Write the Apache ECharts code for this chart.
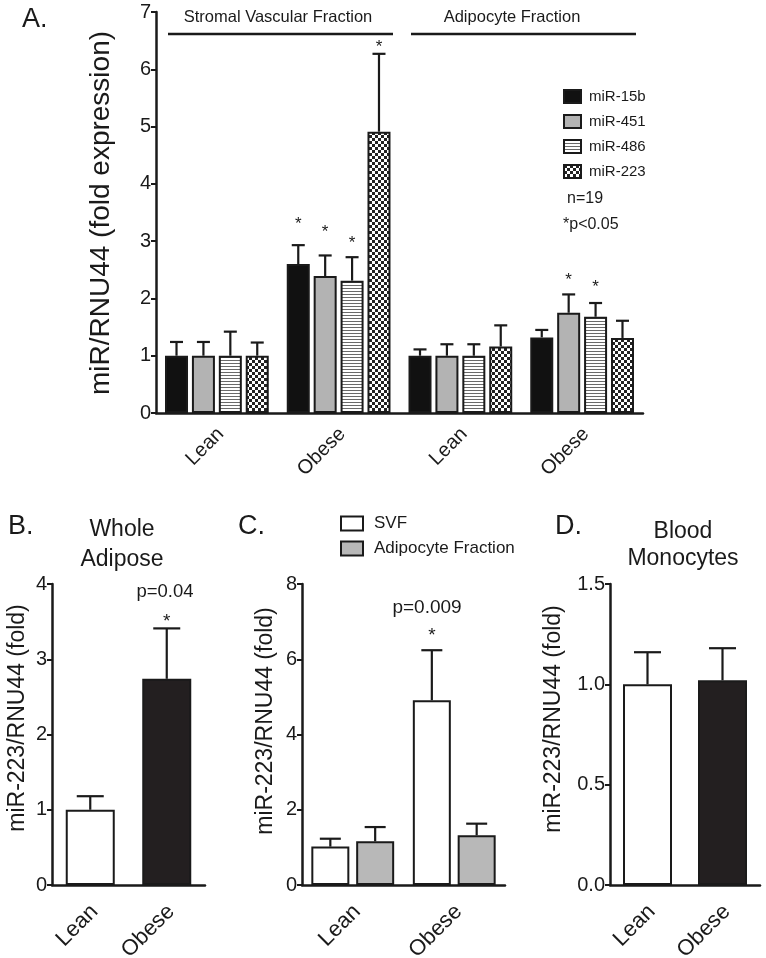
<!DOCTYPE html>
<html><head><meta charset="utf-8">
<script src="https://cdn.jsdelivr.net/npm/echarts@6/dist/echarts.min.js"></script>
<style>html,body{margin:0;padding:0;background:#fff}#c{width:766px;height:958px}</style>
</head><body><div id="c"></div>
<script>
// ---------- DATA ----------
// Panel A
const catsA = ['Lean', 'Obese', 'Lean', 'Obese'];
const groupLabelsA = ['Stromal Vascular Fraction', 'Adipocyte Fraction'];
const namesA = ['miR-15b', 'miR-451', 'miR-486', 'miR-223'];
const mir15b    = [1.00, 2.60, 1.00, 1.32];
const mir15bErr = [1.24, 2.93, 1.11, 1.45];
const mir15bStar = [null, 3.36, null, null];
const mir451    = [1.00, 2.39, 1.00, 1.75];
const mir451Err = [1.24, 2.75, 1.20, 2.07];
const mir451Star = [null, 3.23, null, 2.39];
const mir486    = [1.00, 2.31, 1.00, 1.68];
const mir486Err = [1.42, 2.72, 1.20, 1.92];
const mir486Star = [null, 3.03, null, 2.26];
const mir223    = [1.00, 4.91, 1.16, 1.31];
const mir223Err = [1.23, 6.27, 1.53, 1.61];
const mir223Star = [null, 6.45, null, null];
const ticksA = [0, 1, 2, 3, 4, 5, 6, 7];
// Panel B
const catsB = ['Lean', 'Obese'];
const wholeAdipose    = [1.00, 2.74];
const wholeAdiposeErr = [1.18, 3.41];
const wholeAdiposeStar = [null, 3.56];
const ticksB = [0, 1, 2, 3, 4];
// Panel C
const catsC = ['Lean', 'Obese'];
const namesC = ['SVF', 'Adipocyte Fraction'];
const svf    = [1.02, 4.91];
const svfErr = [1.23, 6.24];
const svfStar = [null, 6.76];
const adipocyte    = [1.16, 1.32];
const adipocyteErr = [1.54, 1.63];
const adipocyteStar = [null, null];
const ticksC = [0, 2, 4, 6, 8];
// Panel D
const catsD = ['Lean', 'Obese'];
const monocytes    = [1.00, 1.02];
const monocytesErr = [1.16, 1.18];
const monocytesStar = [null, null];
const ticksD = [0, 0.5, 1.0, 1.5];

// ---------- STYLE ----------
const FONT = '"Liberation Sans", Arial, Helvetica, sans-serif';
const INK = '#1a1a1a';
function stripeCanvas() {
  const c = document.createElement('canvas'); c.width = 4; c.height = 3;
  const g = c.getContext('2d');
  g.fillStyle = '#fff'; g.fillRect(0, 0, 4, 3);
  g.fillStyle = '#6a6a6a'; g.fillRect(0, 0, 4, 1);
  return c;
}
function checkerCanvas() {
  const c = document.createElement('canvas'); c.width = 6; c.height = 6;
  const g = c.getContext('2d');
  g.fillStyle = '#fff'; g.fillRect(0, 0, 6, 6);
  g.fillStyle = '#222'; g.fillRect(0, 0, 3, 3); g.fillRect(3, 3, 3, 3);
  return c;
}
const fillsA = ['#111111', '#b3b3b3', {image: stripeCanvas(), repeat: 'repeat'}, {image: checkerCanvas(), repeat: 'repeat'}];
const fillsC = ['#ffffff', '#b8b8b8'];
const fillsLO = ['#ffffff', '#231f20'];

const grids = [
  {left: 156, top: 12, width: 487, height: 401},
  {left: 52, top: 584, width: 153, height: 301},
  {left: 302, top: 584, width: 203, height: 301},
  {left: 610, top: 584, width: 150, height: 301}
];

function xAx(i, cats, fs, margin, lh) {
  return {
    type: 'category', gridIndex: i, data: cats,
    axisLine: {lineStyle: {color: INK, width: 2.5}},
    axisTick: {alignWithLabel: true, length: 7, lineStyle: {color: INK, width: 2.5}},
    axisLabel: {rotate: 45, margin: margin, fontSize: fs, fontFamily: FONT, color: INK,
      align: 'right', verticalAlign: 'top', lineHeight: lh}
  };
}
function yAx(i, ticks, fs, fmt) {
  const step = ticks[1] - ticks[0];
  return {
    type: 'value', gridIndex: i, min: ticks[0], max: ticks[ticks.length - 1], interval: step,
    axisLine: {show: true, lineStyle: {color: INK, width: 2.5}},
    axisTick: {show: true, length: 5, lineStyle: {color: INK, width: 2}},
    splitLine: {show: false},
    axisLabel: {margin: 5, fontSize: fs, fontFamily: FONT, color: INK, formatter: fmt}
  };
}
function barS(name, idx, data, fill, bw, gap, perItemFills) {
  return {
    name: name, type: 'bar', xAxisIndex: idx, yAxisIndex: idx,
    barWidth: bw, barGap: gap,
    data: perItemFills ? data.map((v, i) => ({value: v, itemStyle: {color: perItemFills[i]}})) : data,
    itemStyle: {color: fill, borderColor: INK, borderWidth: 2},
    z: 2
  };
}
function errS(idx, vals, errs, stars, k, n, bw, gapFrac, capW, starFs) {
  return {
    type: 'custom', xAxisIndex: idx, yAxisIndex: idx, z: 3, silent: true,
    encode: {x: 0, y: 1},
    data: vals.map((v, i) => [i, v, errs[i], stars[i] == null ? NaN : stars[i]]),
    renderItem: function (params, api) {
      const ci = api.value(0), v = api.value(1), e = api.value(2), s = api.value(3);
      const off = (k - (n - 1) / 2) * bw * (1 + gapFrac);
      const p0 = api.coord([ci, v]), p1 = api.coord([ci, e]);
      const x = p0[0] + off;
      const ch = [
        {type: 'line', shape: {x1: x, y1: p0[1], x2: x, y2: p1[1]}, style: {stroke: INK, lineWidth: 2.2}},
        {type: 'line', shape: {x1: x - capW / 2, y1: p1[1], x2: x + capW / 2, y2: p1[1]}, style: {stroke: INK, lineWidth: 2.2}}
      ];
      if (isFinite(s)) {
        const ps = api.coord([ci, s]);
        ch.push({type: 'text', x: x, y: ps[1] + starFs * 0.25,
          style: {text: '*', font: starFs + 'px ' + FONT, fill: INK, align: 'center', verticalAlign: 'middle'}});
      }
      return {type: 'group', children: ch};
    }
  };
}

const series = [];
const A_BW = 23, A_GAP = 0.17;
const aVals = [mir15b, mir451, mir486, mir223];
const aErrs = [mir15bErr, mir451Err, mir486Err, mir223Err];
const aStars = [mir15bStar, mir451Star, mir486Star, mir223Star];
namesA.forEach((nm, k) => series.push(barS(nm, 0, aVals[k], fillsA[k], A_BW, (A_GAP * 100) + '%')));
namesA.forEach((nm, k) => series.push(errS(0, aVals[k], aErrs[k], aStars[k], k, 4, A_BW, A_GAP, 13, 17)));

series.push(barS('Whole Adipose', 1, wholeAdipose, '#fff', 49, '0%', fillsLO));
series.push(errS(1, wholeAdipose, wholeAdiposeErr, wholeAdiposeStar, 0, 1, 49, 0, 27, 19));

const C_BW = 38, C_GAP = 0.18;
const cVals = [svf, adipocyte], cErrs = [svfErr, adipocyteErr], cStars = [svfStar, adipocyteStar];
namesC.forEach((nm, k) => series.push(barS(nm, 2, cVals[k], fillsC[k], C_BW, (C_GAP * 100) + '%')));
namesC.forEach((nm, k) => series.push(errS(2, cVals[k], cErrs[k], cStars[k], k, 2, C_BW, C_GAP, 21, 19)));

series.push(barS('Blood Monocytes', 3, monocytes, '#fff', 49, '0%', fillsLO));
series.push(errS(3, monocytes, monocytesErr, monocytesStar, 0, 1, 49, 0, 27, 19));

function txt(t, x, y, fs, align, rot) {
  return {type: 'text', x: x, y: y, rotation: rot || 0,
    style: {text: t, font: fs + 'px ' + FONT, fill: INK, align: align || 'center', verticalAlign: 'middle'}};
}
const graphics = [
  txt('A.', 22, 20, 27, 'left'),
  txt('B.', 8, 527, 27, 'left'),
  txt('C.', 238, 527, 27, 'left'),
  txt('D.', 555, 527, 27, 'left'),
  txt(groupLabelsA[0], 278, 17, 16.5),
  txt(groupLabelsA[1], 512, 17, 16.5),
  {type: 'line', shape: {x1: 168, y1: 34, x2: 393, y2: 34}, style: {stroke: INK, lineWidth: 2.5}},
  {type: 'line', shape: {x1: 411, y1: 34, x2: 636, y2: 34}, style: {stroke: INK, lineWidth: 2.5}},
  txt('n=19', 567, 199, 16, 'left'),
  txt('*p<0.05', 563, 225, 16, 'left'),
  txt('miR/RNU44 (fold expression)', 101, 213, 28, 'center', Math.PI / 2),
  txt('miR-223/RNU44 (fold)', 18, 718, 23, 'center', Math.PI / 2),
  txt('miR-223/RNU44 (fold)', 266, 721, 23, 'center', Math.PI / 2),
  txt('miR-223/RNU44 (fold)', 554, 719, 23, 'center', Math.PI / 2),
  txt('Whole', 122, 530, 23),
  txt('Adipose', 122, 560, 23),
  txt('Blood', 683, 532, 23),
  txt('Monocytes', 683, 559, 23),
  txt('p=0.04', 165, 592, 18.5),
  txt('p=0.009', 427, 608, 19)
];

const chart = echarts.init(document.getElementById('c'), null, {renderer: 'canvas'});
chart.setOption({
  animation: false,
  backgroundColor: '#fff',
  grid: grids.map(g => Object.assign({outerBoundsMode: 'none', containLabel: false}, g)),
  xAxis: [xAx(0, catsA, 20, 14, 11), xAx(1, catsB, 22, 19, 12), xAx(2, catsC, 22, 19, 12), xAx(3, catsD, 22, 19, 12)],
  yAxis: [yAx(0, ticksA, 20), yAx(1, ticksB, 20), yAx(2, ticksC, 20), yAx(3, ticksD, 20, v => v.toFixed(1))],
  legend: [
    {data: namesA, orient: 'vertical', left: 558, top: 84, itemWidth: 17, itemHeight: 13, itemGap: 10,
      icon: 'rect', selectedMode: false,
      textStyle: {fontSize: 15, fontFamily: FONT, color: INK, padding: [0, 0, 0, 3]}},
    {data: namesC, orient: 'vertical', left: 335, top: 510, itemWidth: 22, itemHeight: 14, itemGap: 8,
      icon: 'rect', selectedMode: false,
      textStyle: {fontSize: 17, fontFamily: FONT, color: INK, padding: [0, 0, 0, 6]}}
  ],
  series: series,
  graphic: graphics
});
</script></body></html>
